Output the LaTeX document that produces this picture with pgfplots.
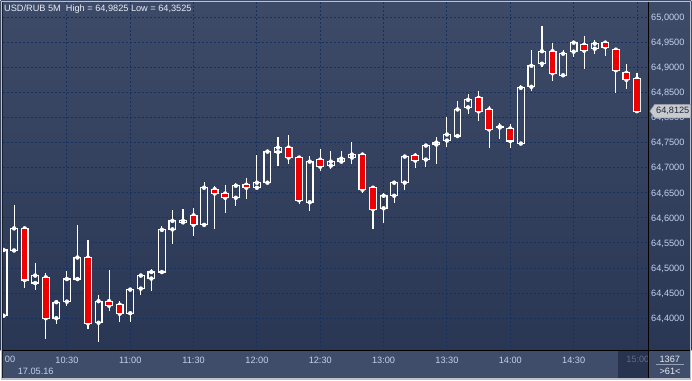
\documentclass[border=0pt]{standalone}
\usepackage{pgfplots}
\pgfplotsset{compat=1.18}
\usepackage{pgfplotstable}
\usepackage{fontspec}
\setmainfont{Liberation Sans}
\usetikzlibrary{shapes.symbols}
\definecolor{bgtop}{RGB}{61,75,105}
\definecolor{bgbot}{RGB}{41,54,84}
\definecolor{panel}{RGB}{63,77,106}
\definecolor{panedark}{RGB}{40,52,79}
\definecolor{gridc}{RGB}{22,48,96}
\definecolor{lbl}{RGB}{192,210,238}
\definecolor{titlec}{RGB}{232,236,244}
\definecolor{candred}{RGB}{238,0,0}
\definecolor{framec}{RGB}{188,194,204}
\definecolor{dimtxt}{RGB}{96,108,132}
\definecolor{markfill}{RGB}{200,202,206}
\definecolor{markdraw}{RGB}{150,155,165}
\definecolor{marktxt}{RGB}{30,40,60}
\definecolor{sepc}{RGB}{150,160,180}
\definecolor{edgec}{RGB}{25,30,45}
\newcommand{\fs}{\fontsize{9.2pt}{10pt}\selectfont}

\pgfplotstableread{
i o h l c
0 64.405 64.536 64.405 64.536
1 64.535 64.625 64.535 64.579
2 64.579 64.579 64.461 64.476
3 64.470 64.511 64.456 64.485
4 64.4815 64.4895 64.359 64.400
5 64.400 64.434 64.389 64.432
6 64.433 64.494 64.424 64.478
7 64.478 64.5855 64.475 64.521
8 64.521 64.556 64.379 64.390
9 64.391 64.446 64.3525 64.434
10 64.434 64.496 64.414 64.425
11 64.427 64.435 64.392 64.409
12 64.410 64.460 64.392 64.457
13 64.459 64.489 64.446 64.485
14 64.479 64.499 64.455 64.492
15 64.492 64.584 64.489 64.576
16 64.577 64.615 64.547 64.594
17 64.591 64.617 64.590 64.594
18 64.605 64.619 64.564 64.586
19 64.586 64.672 64.585 64.660
20 64.657 64.663 64.577 64.6485
21 64.6485 64.665 64.610 64.640
22 64.640 64.670 64.623 64.664
23 64.666 64.680 64.638 64.660
24 64.660 64.725 64.659 64.670
25 64.670 64.732 64.670 64.732
26 64.731 64.761 64.703 64.740
27 64.740 64.766 64.708 64.720
28 64.720 64.720 64.627 64.635
29 64.631 64.723 64.614 64.712
30 64.716 64.737 64.694 64.702
31 64.704 64.733 64.697 64.712
32 64.712 64.733 64.709 64.718
33 64.720 64.751 64.708 64.726
34 64.726 64.726 64.650 64.656
35 64.660 64.663 64.578 64.617
36 64.619 64.649 64.590 64.644
37 64.644 64.670 64.630 64.670
38 64.670 64.725 64.656 64.722
39 64.724 64.730 64.699 64.714
40 64.716 64.744 64.701 64.744
41 64.746 64.762 64.708 64.750
42 64.754 64.800 64.741 64.766
43 64.763 64.832 64.762 64.816
44 64.820 64.846 64.806 64.835
45 64.839 64.852 64.793 64.812
46 64.816 64.822 64.739 64.776
47 64.780 64.788 64.758 64.782
48 64.778 64.786 64.740 64.753
49 64.748 64.864 64.748 64.859
50 64.861 64.935 64.853 64.903
51 64.907 64.9825 64.900 64.932
52 64.932 64.948 64.872 64.888
53 64.884 64.935 64.880 64.927
54 64.931 64.953 64.920 64.949
55 64.945 64.962 64.897 64.933
56 64.937 64.955 64.927 64.947
57 64.949 64.953 64.922 64.940
58 64.935 64.935 64.849 64.894
59 64.889 64.906 64.856 64.875
60 64.877 64.889 64.8095 64.8125
}\candles

\pgfplotsset{
  chartframe/.style={
    at={(2pt,29pt)}, anchor=south west, scale only axis,
    width=647.3pt, height=350pt,
    xmin=-0.0756, xmax=61.106, ymin=64.335, ymax=65.0308,
  }
}

\begin{document}
\begin{tikzpicture}[x=1pt,y=1pt]
\fill[top color=bgtop, bottom color=bgbot] (0,29) rectangle (692,380);
\fill[panel] (0,0) rectangle (692,29);
\fill[panedark] (619,1.5) rectangle (648.6,28.4);

\begin{axis}[chartframe,
  axis line style={draw=none}, major tick length=0pt, tick style={draw=none},
  xtick={6,12,...,60},
  xticklabels={10:30,11:00,11:30,12:00,12:30,13:00,13:30,14:00,14:30,{}},
  ytick={64.4,64.45,64.5,64.55,64.6,64.65,64.7,64.75,64.8,64.85,64.9,64.95,65},
  yticklabel pos=right, scaled y ticks=false,
  grid=major, grid style={gridc, line width=0.9pt, dash pattern=on 2pt off 2pt},
  xticklabel style={font=\fs, text=lbl, anchor=base, inner sep=0pt, yshift=-12.3pt},
  yticklabel style={font=\fs, text=lbl, anchor=base west, inner sep=0pt, xshift=2.4pt, yshift=-3.3pt,
    /pgf/number format/fixed, /pgf/number format/fixed zerofill,
    /pgf/number format/precision=4, /pgf/number format/use comma,
    /pgf/number format/assume math mode=true},
]
% upper wicks
\addplot [white, only marks, mark=none,
  error bars/.cd, y dir=plus, y explicit, error mark=none,
  error bar style={white, line width=1.1pt}]
  table [x=i, y expr={max(\thisrow{o},\thisrow{c})},
         y error plus expr={\thisrow{h}-max(\thisrow{o},\thisrow{c})}] {\candles};
% lower wicks
\addplot [white, only marks, mark=none,
  error bars/.cd, y dir=minus, y explicit, error mark=none,
  error bar style={white, line width=1.1pt}]
  table [x=i, y expr={min(\thisrow{o},\thisrow{c})},
         y error minus expr={min(\thisrow{o},\thisrow{c})-\thisrow{l}}] {\candles};
\end{axis}

\begin{axis}[chartframe, hide axis, ybar stacked, bar width=6.8pt]
\addplot [draw=none, fill=none] table [x=i, y expr={min(\thisrow{o},\thisrow{c})}] {\candles};
\addplot [draw=white, fill=none, line width=1.2pt] table [x=i, y expr={max(\thisrow{c}-\thisrow{o},0)}] {\candles};
\addplot [draw=white, fill=candred, line width=1.2pt] table [x=i, y expr={max(\thisrow{o}-\thisrow{c},0)}] {\candles};
\end{axis}

% panel lines and frame
\draw[black, line width=1.2pt] (0,29) -- (692,29);
\draw[black, line width=1.2pt] (649.3,0) -- (649.3,380);
\draw[edgec, line width=1pt] (2,0) -- (2,380);
\draw[framec, line width=1pt] (0.5,0.5) rectangle (691.5,379.5);
\draw[framec, line width=1.5pt] (0,0.75) -- (692,0.75);

% texts
\node[anchor=base west, inner sep=0pt, font=\fs, text=titlec] at (3.3,368.7)
  {USD/RUB 5M\ \ High = 64,9825 Low = 64,3525};
\node[anchor=base west, inner sep=0pt, font=\fs, text=lbl] at (4,16.9) {00};
\node[anchor=base, inner sep=0pt, font=\fs, text=lbl] at (35,5) {17.05.16};
\begin{scope}
  \clip (619,1.5) rectangle (648.6,28.4);
  \node[anchor=base west, inner sep=0pt, font=\fs, text=dimtxt] at (626.7,16.9) {15:00};
\end{scope}
\node[anchor=base, inner sep=0pt, font=\fs, text=titlec] at (670.5,17.7) {1367};
\node[anchor=base, inner sep=0pt, font=\fs, text=titlec] at (670.8,5) {>61<};
\draw[sepc, line width=0.8pt] (657,15) -- (685,15);

% last price marker
\node[signal, signal to=west, signal pointer angle=110, fill=markfill, draw=markdraw,
  line width=0.5pt, inner xsep=1.5pt, inner ysep=0pt, text height=6.6pt, text depth=1.6pt,
  minimum height=13.5pt, font=\fs, text=marktxt, anchor=west] at (650.3,269.2) {64,8125};
\end{tikzpicture}
\end{document}
